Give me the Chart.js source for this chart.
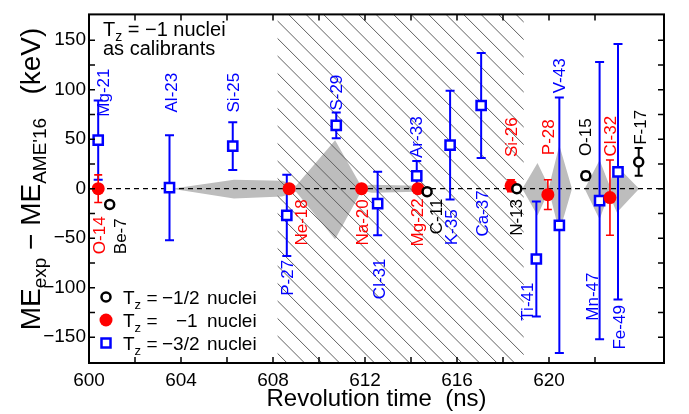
<!DOCTYPE html>
<html>
<head>
<meta charset="utf-8">
<script src="https://cdn.jsdelivr.net/npm/chart.js@4.4.0/dist/chart.umd.min.js"></script>
<style>
  body { margin: 0; background: #fff; }
  #wrap { width: 689px; height: 414px; }
</style>
</head>
<body>
<div id="wrap"><canvas id="massChart" width="689" height="414"></canvas></div>
<script>
// Tz = -3/2 nuclei
var blueNames = ['Mg-21','Al-23','Si-25','P-27','S-29','Cl-31','Ar-33','K-35','Ca-37','Ti-41','V-43','Mn-47','Fe-49'];
var blueT     = [600.4, 603.5, 606.25, 608.6, 610.75, 612.55, 614.25, 615.7, 617.05, 619.45, 620.45, 622.2, 623.0];
var blueDiff  = [49, 1, 43, -27, 64, -15, 13, 44, 84, -71, -37, -12, 17];
var blueErr   = [40, 53, 24, 41, 13, 32, 15, 55, 53, 58, 129, 140, 129];

// Tz = -1 nuclei (calibrants)
var redNames = ['O-14','Ne-18','Na-20','Mg-22','Si-26','P-28','Cl-32'];
var redT     = [600.4, 608.7, 611.85, 614.3, 618.35, 619.95, 622.65];
var redDiff  = [0, 0, 0, 0, 3, -6, -9];
var redErr   = [14, 0, 0, 0, 6, 15, 38];

// Tz = -1/2 nuclei
var blackNames = ['Be-7','C-11','N-13','O-15','F-17'];
var blackT     = [600.9, 614.7, 618.6, 621.6, 623.9];
var blackDiff  = [-16, -3, 0, 13, 27];
var blackErr   = [0, 0, 0, 4, 14];

// grey uncertainty band, two pieces
var bandT1  = [603.6, 606.3, 608.4, 609.0, 610.7, 611.85, 612.3, 614.3];
var bandHi1 = [0, 9, 8, 3, 49, 2, 4, 3];
var bandLo1 = [0, -10, -8, -3, -51, -2, -4, -3];
var bandT2  = [618.84, 619.5, 620.0, 620.45, 621.0, 621.55, 622.2, 622.6, 622.95, 623.92];
var bandHi2 = [0, 26, 2, 44, 0, 0, 29, 5, 23, 0];
var bandLo2 = [0, -27, -2, -44, 0, 0, -31, -5, -24, 0];

// hatched revolution-time region (ns)
var hatchSpan = [608.2, 618.9];

var xTicksMajor = [600, 604, 608, 612, 616, 620, 624];
var yTicksMajor = [-150, -100, -50, 0, 50, 100, 150];

// where each name label sits (ns, keV)
var labelPos = {
  'Mg-21': [600.61, 97], 'Al-23': [603.56, 97], 'Si-25': [606.29, 97], 'S-29': [610.76, 97],
  'Ar-33': [614.24, 52], 'Si-26': [618.36, 52], 'P-28': [619.97, 52], 'O-15': [621.6, 52],
  'Cl-32': [622.66, 53], 'F-17': [623.98, 62], 'V-43': [620.44, 114],
  'O-14': [600.43, -47], 'Be-7': [601.35, -48], 'Ne-18': [609.24, -34], 'P-27': [608.64, -90],
  'Na-20': [611.89, -34], 'Cl-31': [612.63, -91], 'Mg-22': [614.28, -34], 'C-11': [615.1, -28],
  'K-35': [615.76, -39], 'Ca-37': [617.1, -25], 'N-13': [618.58, -29], 'Ti-41': [619.05, -114],
  'Mn-47': [621.87, -109], 'Fe-49': [623.05, -140]
};

var FONT = '"Liberation Sans", Arial, sans-serif';
var BLUE = '#0000ff', RED = '#ff0000', BLACK = '#000000';

function pts(ts, vs) {
  return ts.map(function(t, i){ return {x: t, y: vs[i]}; });
}

function bandPair(ts, hi, lo) {
  return [
    {type: 'line', data: pts(ts, hi), fill: '+1', backgroundColor: '#bdbdbd',
     borderColor: 'rgba(0,0,0,0)', borderWidth: 0, pointRadius: 0, tension: 0, order: 10},
    {type: 'line', data: pts(ts, lo), fill: false,
     borderColor: 'rgba(0,0,0,0)', borderWidth: 0, pointRadius: 0, tension: 0, order: 10}
  ];
}

function drawHatch(chart) {
  var ctx = chart.ctx, a = chart.chartArea, x = chart.scales.x;
  var x0 = x.getPixelForValue(hatchSpan[0]), x1 = x.getPixelForValue(hatchSpan[1]);
  var h = a.bottom - a.top;
  ctx.save();
  ctx.beginPath();
  ctx.rect(x0, a.top, x1 - x0, h);
  ctx.clip();
  ctx.strokeStyle = '#606060';
  ctx.lineWidth = 1;
  ctx.beginPath();
  for (var s = x0 - h - 8; s < x1 + 20; s += 17.5) {
    ctx.moveTo(s, a.top);
    ctx.lineTo(s + h, a.bottom);
  }
  ctx.stroke();
  ctx.restore();
}

function drawZero(chart) {
  var ctx = chart.ctx, a = chart.chartArea;
  var y0 = chart.scales.y.getPixelForValue(0);
  ctx.save();
  ctx.strokeStyle = '#000';
  ctx.lineWidth = 1.2;
  ctx.setLineDash([5, 4]);
  ctx.beginPath();
  ctx.moveTo(a.left, y0);
  ctx.lineTo(a.right, y0);
  ctx.stroke();
  ctx.restore();
}

function drawErrors(chart, ds) {
  var ctx = chart.ctx, xs = chart.scales.x, ys = chart.scales.y;
  ctx.save();
  ctx.strokeStyle = ds.borderColor;
  ctx.lineWidth = ds.errWidth;
  ds.data.forEach(function(p, i){
    var e = ds.errs[i];
    if (!e) return;
    var px = xs.getPixelForValue(p.x);
    var top = ys.getPixelForValue(p.y + e), bot = ys.getPixelForValue(p.y - e);
    var c = ds.capHalf;
    ctx.beginPath();
    ctx.moveTo(px, top); ctx.lineTo(px, bot);
    ctx.moveTo(px - c, top); ctx.lineTo(px + c, top);
    ctx.moveTo(px - c, bot); ctx.lineTo(px + c, bot);
    ctx.stroke();
  });
  ctx.restore();
}

function drawTz(ctx, x, y, size) {
  ctx.font = size + 'px ' + FONT;
  ctx.fillText('T', x, y);
  var w = ctx.measureText('T').width;
  ctx.font = Math.round(size * 0.7) + 'px ' + FONT;
  ctx.fillText('z', x + w, y + size * 0.25);
  return x + w + ctx.measureText('z').width;
}

var decor = {
  id: 'decor',
  beforeDatasetDraw: function(chart, args) {
    var ds = chart.data.datasets[args.index];
    if (ds.first) {
      drawHatch(chart);
      drawZero(chart);
    }
    if (ds.errs) drawErrors(chart, ds);
  },
  afterDatasetsDraw: function(chart) {
    var ctx = chart.ctx, xs = chart.scales.x, ys = chart.scales.y;
    ctx.save();
    ctx.font = '17px ' + FONT;
    ctx.textAlign = 'center';
    ctx.textBaseline = 'middle';
    Object.keys(labelPos).forEach(function(name){
      var col = blueNames.indexOf(name) >= 0 ? BLUE : (redNames.indexOf(name) >= 0 ? RED : BLACK);
      var p = labelPos[name];
      ctx.save();
      ctx.translate(xs.getPixelForValue(p[0]), ys.getPixelForValue(p[1]));
      ctx.rotate(-Math.PI / 2);
      ctx.fillStyle = col;
      ctx.fillText(name, 0, 1);
      ctx.restore();
    });
    ctx.restore();
  },
  afterDraw: function(chart) {
    var ctx = chart.ctx, a = chart.chartArea, xs = chart.scales.x, ys = chart.scales.y;
    ctx.save();
    // frame
    ctx.strokeStyle = '#000';
    ctx.lineWidth = 2;
    ctx.strokeRect(a.left, a.top, a.right - a.left, a.bottom - a.top);
    // inward ticks
    ctx.lineWidth = 1.5;
    ctx.beginPath();
    xs.ticks.forEach(function(t){
      if (t.value % 2 !== 0) return;
      var p = xs.getPixelForValue(t.value);
      ctx.moveTo(p, a.bottom); ctx.lineTo(p, a.bottom - 6);
      ctx.moveTo(p, a.top); ctx.lineTo(p, a.top + 6);
    });
    ys.ticks.forEach(function(t){
      if (t.value % 25 !== 0) return;
      var p = ys.getPixelForValue(t.value);
      ctx.moveTo(a.left, p); ctx.lineTo(a.left + 6, p);
      ctx.moveTo(a.right, p); ctx.lineTo(a.right - 6, p);
    });
    ctx.stroke();

    // note top-left
    ctx.fillStyle = '#000';
    ctx.textAlign = 'left';
    ctx.textBaseline = 'alphabetic';
    var nx = a.left + 14, ny = a.top + 22;
    var e = drawTz(ctx, nx, ny, 20);
    ctx.font = '20px ' + FONT;
    ctx.fillText(' = \u22121 nuclei', e, ny);
    ctx.fillText('as calibrants', nx, ny + 19);

    // legend bottom-left
    var lx = a.left + 17, rows = [a.bottom - 66, a.bottom - 43, a.bottom - 20];
    ctx.lineWidth = 2.5;
    ctx.strokeStyle = BLACK; ctx.fillStyle = '#fff';
    ctx.beginPath(); ctx.arc(lx, rows[0], 4.5, 0, Math.PI * 2); ctx.fill(); ctx.stroke();
    ctx.fillStyle = RED;
    ctx.beginPath(); ctx.arc(lx, rows[1], 6.5, 0, Math.PI * 2); ctx.fill();
    ctx.strokeStyle = BLUE; ctx.fillStyle = '#fff';
    ctx.fillRect(lx - 4.5, rows[2] - 4.5, 9, 9); ctx.strokeRect(lx - 4.5, rows[2] - 4.5, 9, 9);
    var vals = ['\u22121/2', '\u22121', '\u22123/2'];
    var vx = [lx + 56, lx + 70, lx + 56];
    ctx.fillStyle = '#000';
    rows.forEach(function(ry, i){
      var b = ry + 7;
      var q = drawTz(ctx, lx + 17, b, 19);
      ctx.font = '19px ' + FONT;
      ctx.fillText(' =', q, b);
      ctx.fillText(vals[i], vx[i], b);
      ctx.fillText('nuclei', lx + 101, b);
    });

    // y-axis title with subscripts
    var F = 28, f = 19;
    var parts = [['ME', F, 0], ['exp', f, 6], [' \u2212 ', F, 0], ['ME', F, 0], ["AME'16", f, 6], ['   ', F, 0], ['(keV)', F, 0]];
    var total = 0;
    parts.forEach(function(pt){ ctx.font = pt[1] + 'px ' + FONT; pt.push(ctx.measureText(pt[0]).width); total += pt[3]; });
    ctx.translate(40, 179);
    ctx.rotate(-Math.PI / 2);
    var cx = -total / 2;
    parts.forEach(function(pt){
      ctx.font = pt[1] + 'px ' + FONT;
      ctx.fillText(pt[0], cx, pt[2]);
      cx += pt[3];
    });
    ctx.restore();
  }
};

var datasets = bandPair(bandT1, bandHi1, bandLo1).concat(bandPair(bandT2, bandHi2, bandLo2));
datasets.push({
  label: 'Tz = -3/2', data: pts(blueT, blueDiff), errs: blueErr, first: true,
  pointStyle: 'rect', pointRadius: 6.5, borderWidth: 2.5, borderColor: BLUE, backgroundColor: '#fff',
  errWidth: 2, capHalf: 4.5, order: 3
});
datasets.push({
  label: 'Tz = -1', data: pts(redT, redDiff), errs: redErr,
  pointStyle: 'circle', pointRadius: 6.5, borderWidth: 0, borderColor: RED, backgroundColor: RED,
  errWidth: 1.6, capHalf: 4, order: 2
});
datasets.push({
  label: 'Tz = -1/2', data: pts(blackT, blackDiff), errs: blackErr,
  pointStyle: 'circle', pointRadius: 4.5, borderWidth: 2.5, borderColor: BLACK, backgroundColor: '#fff',
  errWidth: 2, capHalf: 4, order: 1
});

var config_mass = {
  type: 'scatter',
  data: { datasets: datasets },
  options: {
    responsive: false,
    animation: false,
    devicePixelRatio: 1,
    layout: { padding: { top: 10, right: 25, left: 0, bottom: 0 } },
    plugins: { legend: { display: false }, tooltip: { enabled: false } },
    scales: {
      x: {
        type: 'linear', min: 600, max: 625,
        grid: { display: false, drawTicks: false }, border: { display: false },
        ticks: {
          stepSize: 2, autoSkip: false, maxRotation: 0, padding: 6, color: '#000',
          font: { family: FONT, size: 19 },
          callback: function(v){ return xTicksMajor.indexOf(v) >= 0 ? String(v) : ''; }
        },
        title: { display: true, text: 'Revolution time  (ns)', color: '#000',
                 font: { family: FONT, size: 24 }, padding: { top: 0, bottom: 0 } },
        afterFit: function(s){ s.height = 51; }
      },
      y: {
        type: 'linear', min: -176, max: 176,
        grid: { display: false, drawTicks: false }, border: { display: false },
        ticks: {
          stepSize: 25, autoSkip: false, padding: 3, color: '#000',
          font: { family: FONT, size: 19 },
          callback: function(v){
            if (yTicksMajor.indexOf(v) < 0) return '';
            return v < 0 ? '\u2212' + Math.abs(v) : String(v);
          }
        },
        afterFit: function(s){ s.width = 89; }
      }
    }
  },
  plugins: [decor]
};

var massChart = new Chart(document.getElementById('massChart'), config_mass);
</script>
</body>
</html>
